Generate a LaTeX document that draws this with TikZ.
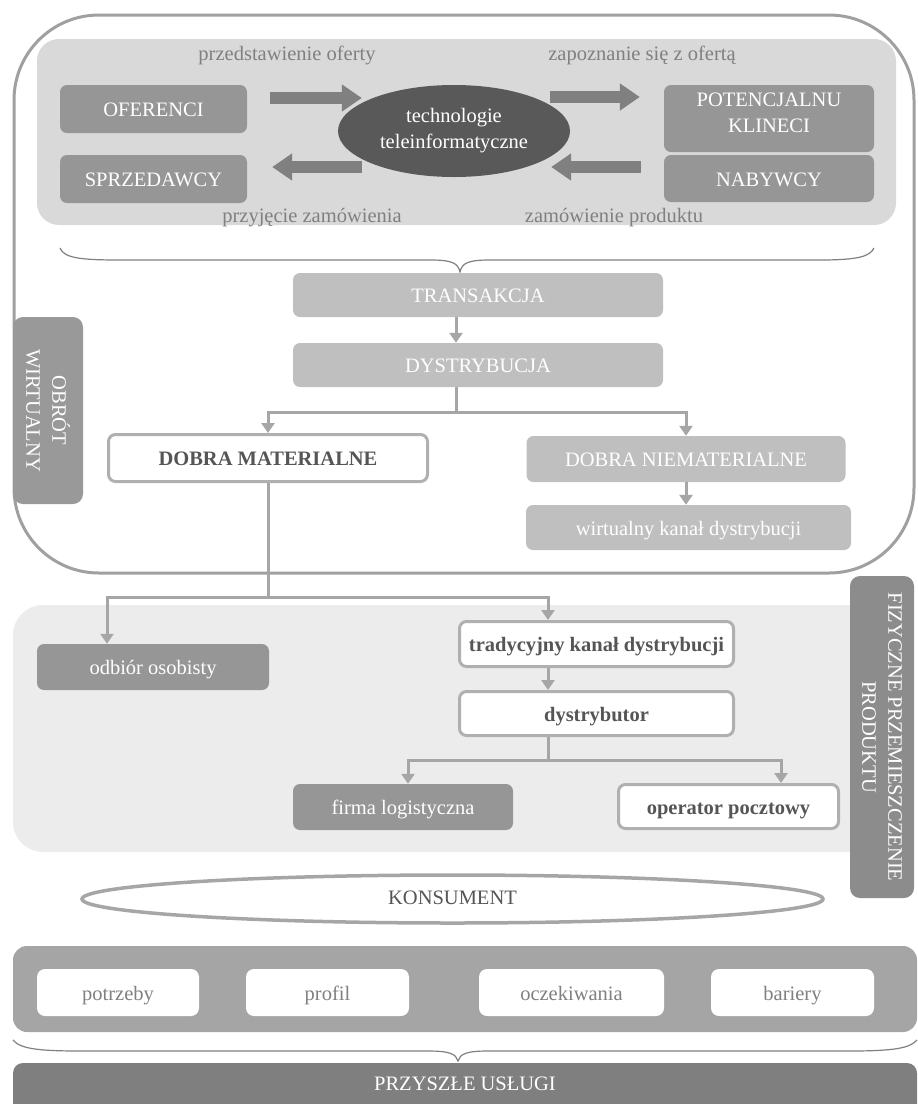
\documentclass[tikz,border=0pt]{standalone}
\usepackage{fontspec}
\setmainfont{Liberation Serif}
\usetikzlibrary{arrows.meta,shapes.geometric}
\definecolor{outerc}{HTML}{A0A0A0}
\definecolor{toppan}{HTML}{D9D9D9}
\definecolor{midc}{HTML}{969696}
\definecolor{arrowc}{HTML}{808080}
\definecolor{ellc}{HTML}{595959}
\definecolor{labelc}{HTML}{808080}
\definecolor{lightc}{HTML}{BFBFBF}
\definecolor{lowpan}{HTML}{ECECEC}
\definecolor{wbord}{HTML}{B0B0B0}
\definecolor{connc}{HTML}{A6A6A6}
\definecolor{tabc}{HTML}{999999}
\definecolor{tabd}{HTML}{8C8C8C}
\definecolor{botpan}{HTML}{A5A5A5}
\definecolor{futc}{HTML}{7F7F7F}
\definecolor{txtdark}{HTML}{555555}
\definecolor{bracec}{HTML}{808080}
\begin{document}
\begin{tikzpicture}[x=1pt,y=-1pt,
  font=\fontsize{20.5}{26}\selectfont,
  box/.style={rounded corners=7pt, inner sep=0pt, align=center},
  oneline/.style={text height=16pt, text depth=1pt},
  darkbox/.style={box, fill=midc, text=white},
  lightbox/.style={box, fill=lightc, text=white},
  whitebox/.style={box, fill=white, draw=wbord, line width=3pt, text=txtdark, font=\fontsize{20.5}{26}\selectfont\bfseries},
  smallbox/.style={box, oneline, fill=white, text=labelc, rounded corners=8pt},
  tabbox/.style={box, rounded corners=10pt, text=white, rotate=-90},
  lbl/.style={text=labelc, inner sep=0pt, oneline},
  bigarrow/.style={draw=arrowc, line width=12pt, -{Triangle[width=26pt,length=20pt]}},
  conn/.style={draw=connc, line width=3pt, -{Triangle[width=13pt,length=10pt]}},
  bracestyle/.style={draw=bracec, line width=1.2pt}]
\useasboundingbox (0,0) rectangle (918,1104);

% outer frame and panels
\draw[outerc, line width=3pt, rounded corners=85pt] (14,15) rectangle (914,573);
\fill[toppan, rounded corners=22pt] (37,39) rectangle (896,225);
\fill[lowpan, rounded corners=30pt] (13,605) rectangle (880,852);

% top panel
\node[darkbox, oneline, minimum width=187pt, minimum height=48pt] (ofer) at (153.5,109) {OFERENCI};
\node[darkbox, oneline, minimum width=187pt, minimum height=48pt] (sprz) at (153.5,179) {SPRZEDAWCY};
\node[darkbox, minimum width=210pt, minimum height=67pt] (pot) at (769,118.5) {\raisebox{4pt}[\height][\depth]{\begin{tabular}{@{}c@{}}POTENCJALNU\\KLINECI\end{tabular}}};
\node[darkbox, oneline, minimum width=210pt, minimum height=47pt] (nab) at (769,178.5) {NABYWCY};
\node[ellipse, fill=ellc, text=white, inner sep=0pt, align=center, minimum width=232pt, minimum height=92pt] (tech) at (454,131) {technologie\\teleinformatyczne};

\node[lbl] (l1) at (287,53) {przedstawienie oferty};
\node[lbl] (l2) at (642,53) {zapoznanie się z ofertą};
\node[lbl] (l3) at (312,215) {przyjęcie zamówienia};
\node[lbl] (l4) at (614,215) {zamówienie produktu};

\draw[bigarrow] ([xshift=23pt,yshift=11pt]ofer.east) -- ([xshift=24pt,yshift=33pt]tech.west);
\draw[bigarrow] ([xshift=24pt,yshift=-36pt]tech.west) -- ([xshift=25pt,yshift=12pt]sprz.east);
\draw[bigarrow] ([xshift=-20pt,yshift=34pt]tech.east) -- ([xshift=-24pt,yshift=21.5pt]pot.west);
\draw[bigarrow] ([xshift=-23pt,yshift=11.5pt]nab.west) -- ([xshift=-19pt,yshift=-36pt]tech.east);

% top brace
\draw[bracestyle] (60,248) .. controls (64,258) and (80,260) .. (120,260) -- (430,260)
  .. controls (452,260) and (458,263) .. (460,272)
  .. controls (462,263) and (468,260) .. (490,260) -- (820,260)
  .. controls (860,260) and (870,256) .. (874,248);

% virtual flow
\node[lightbox, oneline, minimum width=370pt, minimum height=44pt] (trans) at (478,295) {TRANSAKCJA};
\node[lightbox, oneline, minimum width=370pt, minimum height=44pt] (dyst) at (478,365) {DYSTRYBUCJA};
\node[whitebox, oneline, minimum width=319pt, minimum height=47pt] (dm) at (268,458) {DOBRA MATERIALNE};
\node[lightbox, oneline, minimum width=319pt, minimum height=46pt] (dnm) at (686,459) {DOBRA NIEMATERIALNE};
\node[lightbox, oneline, minimum width=325pt, minimum height=45pt] (wkd) at (688.5,527.5) {wirtualny kanał dystrybucji};

\draw[conn] ([xshift=-22pt]trans.south) -- ([xshift=-22pt]dyst.north);
\draw[conn] ([xshift=-22pt]dyst.south) -- ++(0,25) -| (dm.north);
\draw[conn] ([xshift=-22pt]dyst.south) -- ++(0,25) -| (dnm.north);
\draw[conn] (dnm.south) -- (dnm.south |- wkd.north);

\node[tabbox, fill=tabc, minimum width=187pt, minimum height=70pt] (obrot) at (48,410.5) {OBRÓT\\WIRTUALNY};

% physical flow
\node[darkbox, oneline, minimum width=232pt, minimum height=46pt] (odb) at (153,667) {odbiór osobisty};
\node[whitebox, oneline, minimum width=274pt, minimum height=45pt] (trad) at (596.5,644) {tradycyjny kanał dystrybucji};
\node[whitebox, oneline, minimum width=274pt, minimum height=44pt] (dystr) at (596.5,713.5) {dystrybutor};
\node[darkbox, oneline, minimum width=220pt, minimum height=46pt] (firma) at (403,807) {firma logistyczna};
\node[whitebox, oneline, minimum width=220pt, minimum height=44pt] (oper) at (728.5,806.5) {operator pocztowy};

\draw[conn] (dm.south) -- ++(0,114) -| ([xshift=-46pt]odb.north);
\draw[conn] (dm.south) -- ++(0,114) -| ([xshift=-48.5pt]trad.north);
\draw[conn] ([xshift=-48.5pt]trad.south) -- ([xshift=-48.5pt]dystr.north);
\draw[conn] ([xshift=-48.5pt]dystr.south) -- ++(0,23) -| ([xshift=5pt]firma.north);
\draw[conn] ([xshift=-48.5pt]dystr.south) -- ++(0,23) -| ([xshift=52.5pt]oper.north);

\node[tabbox, fill=tabd, minimum width=322pt, minimum height=64pt] (fiz) at (882,737) {FIZYCZNE PRZEMIESZCZENIE\\PRODUKTU};

% consumer
\node[ellipse, text height=14pt, text depth=4pt, draw=connc, line width=3.5pt, fill=white, text=txtdark, inner sep=0pt, minimum width=741pt, minimum height=48pt] (kons) at (452.5,899) {KONSUMENT};

\fill[botpan, rounded corners=14pt] (13,946) rectangle (917,1032);
\node[smallbox, minimum width=162pt, minimum height=47pt] (potr) at (118,992.5) {potrzeby};
\node[smallbox, minimum width=163pt, minimum height=47pt] (prof) at (327.5,992.5) {profil};
\node[smallbox, minimum width=185pt, minimum height=47pt] (ocz) at (571.5,992.5) {oczekiwania};
\node[smallbox, minimum width=163pt, minimum height=47pt] (bar) at (792.5,992.5) {bariery};

% bottom brace
\draw[bracestyle] (13,1040) .. controls (20,1049) and (40,1051) .. (80,1051) -- (428,1051)
  .. controls (450,1051) and (456,1054) .. (458,1061)
  .. controls (460,1054) and (466,1051) .. (488,1051) -- (850,1051)
  .. controls (895,1051) and (910,1048) .. (917,1040);

\fill[futc, rounded corners=10pt] (13,1063) rectangle (917,1125);
\node[text=white, inner sep=0pt, oneline] (przy) at (465,1083) {PRZYSZŁE USŁUGI};
\end{tikzpicture}
\end{document}
